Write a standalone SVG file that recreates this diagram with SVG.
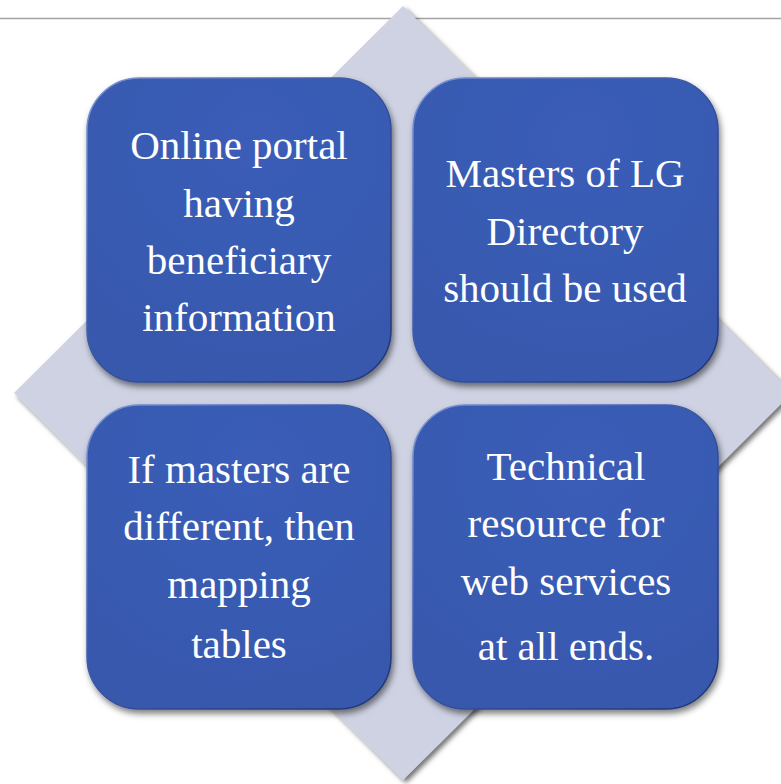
<svg xmlns="http://www.w3.org/2000/svg" width="781" height="784" viewBox="0 0 781 784">
<defs>
<filter id="dshadow" x="-10%" y="-10%" width="130%" height="130%">
<feDropShadow dx="3" dy="3" stdDeviation="2.5" flood-color="#000" flood-opacity="0.55"/>
</filter>
<filter id="bshadow" x="-10%" y="-10%" width="130%" height="130%">
<feDropShadow dx="2" dy="4" stdDeviation="3" flood-color="#000" flood-opacity="0.5"/>
</filter>
<radialGradient id="boxfill" cx="0.55" cy="0.2" r="0.9">
<stop offset="0" stop-color="#3A5DB8"/>
<stop offset="1" stop-color="#3858AC"/>
</radialGradient>
<linearGradient id="rim" x1="0" y1="0" x2="1" y2="1">
<stop offset="0" stop-color="#7F97D6"/>
<stop offset="0.5" stop-color="#34519F"/>
<stop offset="1" stop-color="#1E3470"/>
</linearGradient>
<style>
.box{fill:url(#boxfill);stroke:url(#rim);stroke-width:1.5;filter:url(#bshadow)}
.t{fill:#FFFFFF;font-family:"Liberation Serif","Times New Roman",serif;font-size:41px;text-anchor:middle}
</style>
</defs>
<rect width="781" height="784" fill="#FFFFFF"/>
<line x1="0" y1="18.5" x2="781" y2="18.5" stroke="#A3A3A3" stroke-width="1.5"/>
<polygon points="403,6 792,393 403,780 14,393" fill="#CED2E3" filter="url(#dshadow)"/>
<g id="node1">
<rect class="box" x="87" y="78" width="304" height="304" rx="52"/>
<text class="t" x="239" y="159">Online portal</text>
<text class="t" x="239" y="217">having</text>
<text class="t" x="239" y="274">beneficiary</text>
<text class="t" x="239" y="331">information</text>
</g>
<g id="node2">
<rect class="box" x="413" y="78" width="305" height="304" rx="52"/>
<text class="t" x="565" y="187">Masters of LG</text>
<text class="t" x="565" y="245">Directory</text>
<text class="t" x="565" y="302">should be used</text>
</g>
<g id="node3">
<rect class="box" x="87" y="405" width="304" height="304" rx="52"/>
<text class="t" x="239" y="483">If masters are</text>
<text class="t" x="239" y="540">different, then</text>
<text class="t" x="239" y="598">mapping</text>
<text class="t" x="239" y="658">tables</text>
</g>
<g id="node4">
<rect class="box" x="413" y="405" width="305" height="304" rx="52"/>
<text class="t" x="566" y="480">Technical</text>
<text class="t" x="566" y="537">resource for</text>
<text class="t" x="566" y="595">web services</text>
<text class="t" x="566" y="660">at all ends.</text>
</g>
<g id="connectors"/>
</svg>
